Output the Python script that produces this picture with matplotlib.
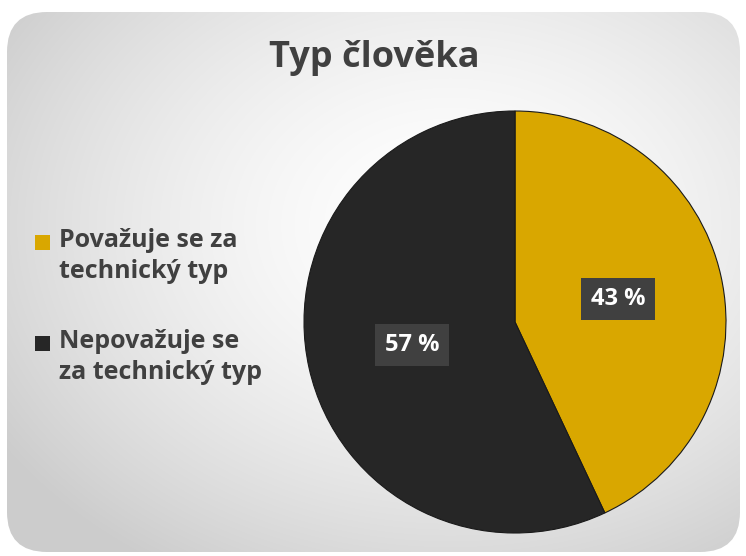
"""
Pie chart: Typ člověka
"""
import matplotlib
matplotlib.use('Agg')
import matplotlib.pyplot as plt
from matplotlib.patches import FancyBboxPatch, Rectangle
import numpy as np

# Data
categories = ['Považuje se za\ntechnický typ', 'Nepovažuje se\nza technický typ']
values = [43, 57]
colors = ['#D9A700', '#262626']
title = 'Typ člověka'

W, H = 746, 556
fig = plt.figure(figsize=(W / 100, H / 100), dpi=100)
fig.patch.set_facecolor('white')

# Background panel with radial gradient and rounded corners
bg = fig.add_axes([0, 0, 1, 1])
bg.set_xlim(0, W)
bg.set_ylim(0, H)
bg.axis('off')
yy, xx = np.mgrid[0:H, 0:W]
r = np.sqrt(((xx - 450) / 450.0) ** 2 + ((yy - 330) / 340.0) ** 2)
shade = np.clip(1.0 - 0.15 * r ** 1.6, 0.80, 1.0)
img = bg.imshow(np.dstack([shade, shade, shade]), extent=[0, W, 0, H],
                origin='lower', zorder=0)
panel = FancyBboxPatch((7, 4), 733, 540, boxstyle='round,pad=0,rounding_size=40',
                       facecolor='none', edgecolor='none', transform=bg.transData)
bg.add_patch(panel)
img.set_clip_path(panel)

# Title
fig.text(374 / W, 1 - 58 / H, title, ha='center', va='center', fontsize=26,
         fontweight='bold', color='#404040', family='Open Sans')

# Pie
cx, cy, rad = 515, 322, 211
ax = fig.add_axes([(cx - rad) / W, 1 - (cy + rad) / H, 2 * rad / W, 2 * rad / H])
wedges, texts, autotexts = ax.pie(
    values, colors=colors, startangle=90, counterclock=False,
    autopct=lambda p: f'{p:.0f} %', pctdistance=0.5,
    wedgeprops=dict(edgecolor='#1a1a1a', linewidth=0.8),
    textprops=dict(color='white', fontsize=17, fontweight='bold', family='Open Sans'))
for t in autotexts:
    t.set_bbox(dict(boxstyle='square,pad=0.4', facecolor='#404040', edgecolor='none'))
ax.set_xlim(-1, 1)
ax.set_ylim(-1, 1)
ax.set_aspect('equal')

# Legend
leg_y = [242, 343]
for label, color, y in zip(categories, colors, leg_y):
    bg.add_patch(Rectangle((35, H - y - 8), 15, 15, facecolor=color, edgecolor='none',
                           zorder=3))
    bg.text(59, H - y + 14, label, ha='left', va='top', fontsize=18,
            fontweight='bold', color='#404040', family='Open Sans', linespacing=1.3,
            zorder=3)

fig.savefig('out.png', dpi=100)
